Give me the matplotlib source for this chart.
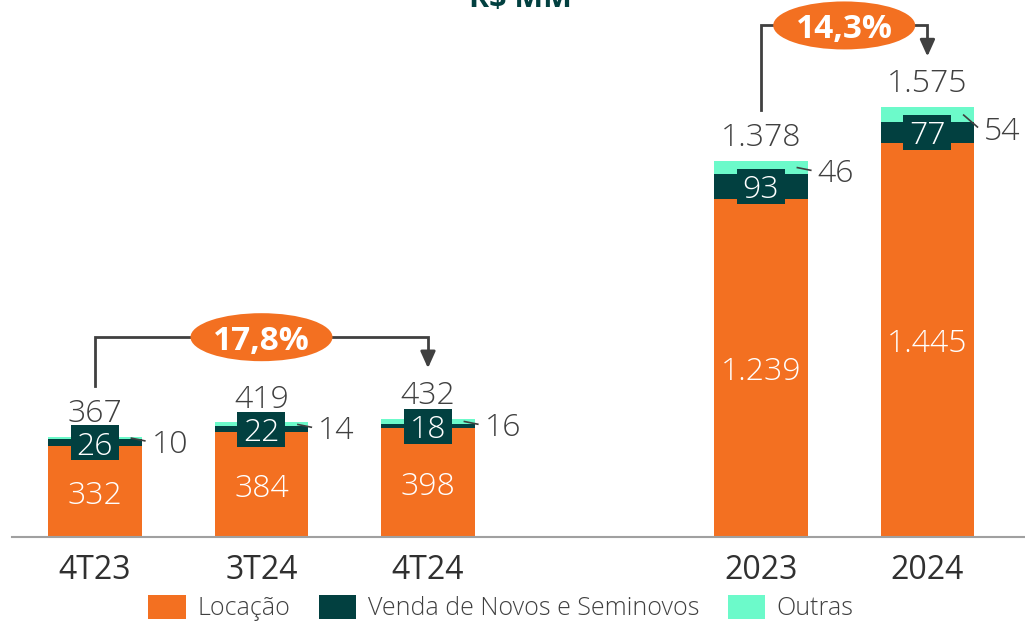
import matplotlib
matplotlib.use("Agg")
import matplotlib.pyplot as plt
from matplotlib.patches import Ellipse, Rectangle, Patch

categories = ["4T23", "3T24", "4T24", "2023", "2024"]
positions = [0, 1, 2, 4, 5]
locacao = [332, 384, 398, 1239, 1445]
venda = [26, 22, 18, 93, 77]
outras = [10, 14, 16, 46, 54]
totais = [367, 419, 432, 1378, 1575]
total_labels = ["367", "419", "432", "1.378", "1.575"]
locacao_labels = ["332", "384", "398", "1.239", "1.445"]
growth = [("17,8%", 0, 2), ("14,3%", 3, 4)]
series_names = ["Locação", "Venda de Novos e Seminovos", "Outras"]

ORANGE = "#F37021"
DARK = "#024040"
MINT = "#6CFACA"
GRAY = "#404040"

plt.rcParams['font.family'] = ['Open Sans', 'DejaVu Sans']

W, H = 1025, 622
fig = plt.figure(figsize=(W / 100, H / 100), dpi=100)
ax = fig.add_axes([12 / W, 85 / H, 1013 / W, 537 / H])
ax.set_xlim(-0.4985, 5.586)
ax.set_ylim(0, 1969)

px_y = 1969 / 537.0      # data units per pixel (y)
px_x = 6.0845 / 1013.0   # data units per pixel (x)
bw = 0.56
FS = 23
FW = 'light'

ax.bar(positions, locacao, width=bw, color=ORANGE, zorder=2)
ax.bar(positions, venda, width=bw, bottom=locacao, color=DARK, zorder=2)
bott = [a + b for a, b in zip(locacao, venda)]
ax.bar(positions, outras, width=bw, bottom=bott, color=MINT, zorder=2)

for i, x in enumerate(positions):
    ax.text(x, locacao[i] / 2, locacao_labels[i], ha='center', va='center_baseline',
            color='white', fontsize=FS, fontweight=FW, zorder=4)
    vc = locacao[i] + venda[i] / 2
    bwid = 48 * px_x
    bh = 35 * px_y
    ax.add_patch(Rectangle((x - bwid / 2, vc - bh / 2), bwid, bh,
                           facecolor=DARK, edgecolor='none', zorder=3))
    ax.text(x, vc, str(venda[i]), ha='center', va='center_baseline', color='white',
            fontsize=FS, fontweight=FW, zorder=4)
    oc = bott[i] + outras[i] / 2
    right = x + bw / 2
    dy = 13 if i == 4 else 3
    ly = oc - dy * px_y
    ax.plot([right - 11 * px_x, right + 4 * px_x], [oc, ly], color=GRAY,
            lw=1.2, zorder=4, solid_capstyle='butt')
    ax.text(right + 10 * px_x, ly, str(outras[i]), ha='left', va='center_baseline',
            color=GRAY, fontsize=FS, fontweight=FW, zorder=4)
    ax.annotate(total_labels[i], (x, totais[i]), xytext=(0, 7),
                textcoords='offset pixels', ha='center', va='bottom',
                color=GRAY, fontsize=FS, fontweight=FW, zorder=4)

for label, a, b in growth:
    xa, xb = positions[a], positions[b]
    ya = totais[a] + 51 * px_y
    yb = totais[b] + 51 * px_y
    yh = max(totais[a], totais[b]) + 82 * px_y
    ax.plot([xa, xa, xb, xb], [ya, yh, yh, yb + 14 * px_y], color=GRAY,
            lw=2, zorder=5, solid_joinstyle='miter')
    ax.annotate("", xy=(xb, yb), xytext=(xb, yb + 16 * px_y),
                arrowprops=dict(arrowstyle='-|>,head_width=0.45,head_length=1.0',
                                color=GRAY, lw=2, shrinkA=0, shrinkB=0), zorder=5)
    xm = (xa + xb) / 2
    ax.add_patch(Ellipse((xm, yh), 142 * px_x, 48 * px_y, facecolor=ORANGE,
                         edgecolor='none', zorder=6))
    ax.text(xm, yh, label, ha='center', va='center_baseline', color='white',
            fontsize=24, fontweight='bold', zorder=7)

for s in ['top', 'right', 'left']:
    ax.spines[s].set_visible(False)
ax.spines['bottom'].set_color('#A0A0A0')
ax.spines['bottom'].set_linewidth(1.5)
ax.set_yticks([])
ax.set_xticks(positions)
ax.set_xticklabels(categories, fontsize=23, color='#303030')
ax.tick_params(axis='x', length=0, pad=12)

fig.text(520 / W, 1 - 7 / H, "R$ MM", ha='center', va='baseline',
         fontsize=22, fontweight='bold', color=DARK)

handles = [Patch(facecolor=c, edgecolor='none') for c in (ORANGE, DARK, MINT)]
leg = fig.legend(handles, series_names, loc='center', bbox_to_anchor=(501 / W, 1 - 608 / H),
                 ncol=3, frameon=False, fontsize=18, handlelength=1.5, handleheight=1.1,
                 handletextpad=0.45, columnspacing=1.15, borderaxespad=0)
for t in leg.get_texts():
    t.set_color(GRAY)
    t.set_fontweight('light')

fig.savefig("out.png", dpi=100)
